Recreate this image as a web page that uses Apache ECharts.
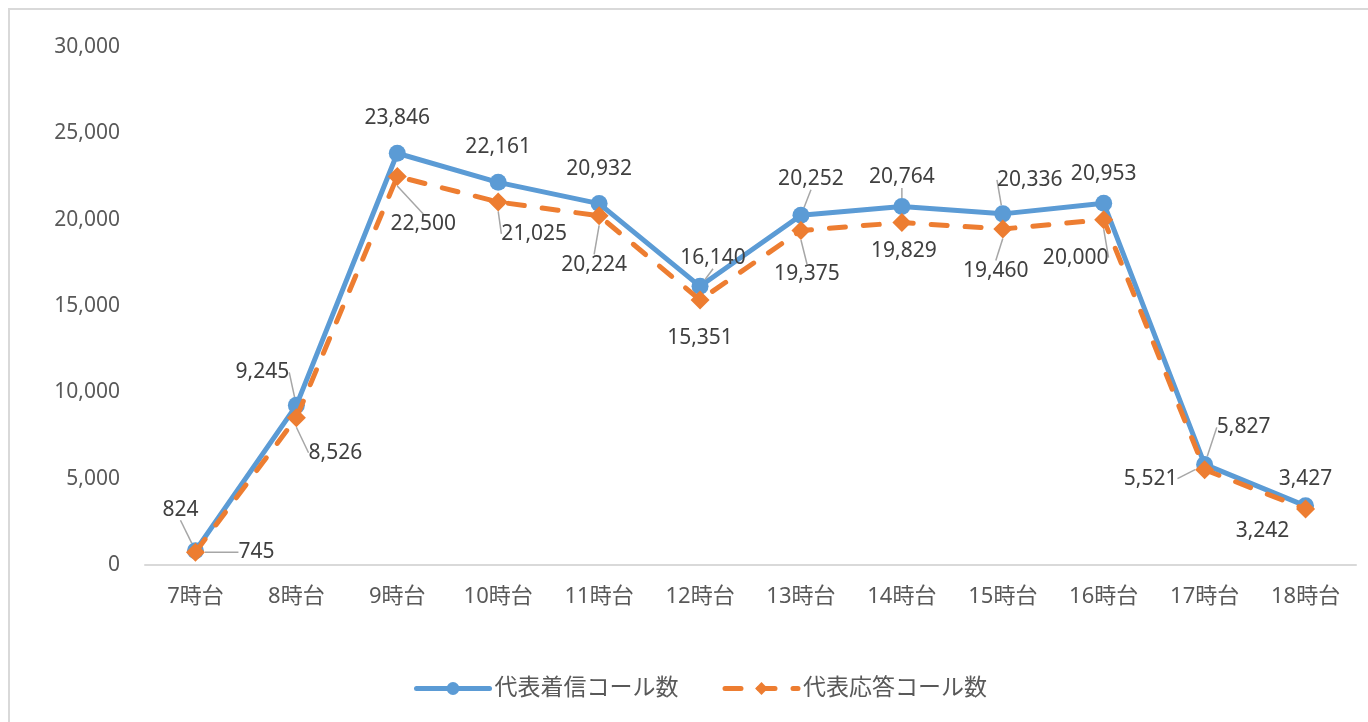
<!DOCTYPE html>
<html>
<head>
<meta charset="utf-8">
<script src="https://cdn.jsdelivr.net/npm/echarts@6/dist/echarts.min.js"></script>
<style>
  html, body { margin: 0; padding: 0; background: #fff; }
  #chart { width: 1368px; height: 722px; }
</style>
</head>
<body>
<div id="chart"></div>
<script>
// Hourly call volumes
const hours = ['7時台', '8時台', '9時台', '10時台', '11時台', '12時台', '13時台', '14時台', '15時台', '16時台', '17時台', '18時台'];
const incomingCalls = [824, 9245, 23846, 22161, 20932, 16140, 20252, 20764, 20336, 20953, 5827, 3427];
const answeredCalls = [745, 8526, 22500, 21025, 20224, 15351, 19375, 19829, 19460, 20000, 5521, 3242];
const seriesNames = ['代表着信コール数', '代表応答コール数'];
const yTicks = { min: 0, max: 30000, step: 5000 };

// Label placement relative to each marker centre (px), and whether a leader line is drawn
const incomingLabelOffsets = [[-15, -41], [-34, -33], [0, -35], [0, -35], [0, -35], [13, -28], [10, -36], [0, -29], [27, -34], [0, -29], [39, -37], [0, -27]];
const incomingLeaders = [true, true, false, false, false, true, true, true, true, false, true, false];
const answeredLabelOffsets = [[61, 0], [39, 35], [26, 48], [36, 32], [-5, 49], [0, 38], [6, 44], [2, 28], [-7, 42], [-28, 38], [-54, 9], [-43, 22]];
const answeredLeaders = [true, true, true, true, true, false, true, false, true, true, true, false];

const FONT = "'Noto Sans', 'Noto Sans CJK JP', sans-serif";
const fmt = v => Number(v).toLocaleString('en-US');

function buildData(values, leaders) {
  return values.map((v, i) => ({ value: v, labelLine: { show: leaders[i] } }));
}

function layoutFor(offsets) {
  return function (params) {
    const r = params.rect;
    const o = offsets[params.dataIndex];
    return {
      x: r.x + r.width / 2 + o[0],
      y: r.y + r.height / 2 + o[1],
      align: 'center',
      verticalAlign: 'middle'
    };
  };
}

const labelStyle = {
  show: true,
  position: 'inside',
  color: '#404040',
  fontFamily: FONT,
  fontSize: 21,
  formatter: p => fmt(p.value)
};
const leaderStyle = { lineStyle: { color: '#A6A6A6', width: 1.5 } };

const chart = echarts.init(document.getElementById('chart'), null, { renderer: 'canvas' });
chart.setOption({
  animation: false,
  backgroundColor: '#fff',
  graphic: [{
    type: 'rect',
    shape: { x: 9, y: 9, width: 1400, height: 800 },
    style: { fill: 'none', stroke: '#D9D9D9', lineWidth: 2 },
    silent: true,
    z: -10
  }],
  grid: { left: 145, right: 12, top: 47, bottom: 157, containLabel: false },
  legend: {
    top: 677,
    left: 414,
    padding: 0,
    itemWidth: 73,
    itemHeight: 16,
    itemGap: 44,
    itemTextGap: 6,
    lineStyle: { width: 5 },
    textStyle: { fontFamily: FONT, fontSize: 23, color: '#595959' },
    data: seriesNames
  },
  xAxis: {
    type: 'category',
    data: hours,
    boundaryGap: true,
    axisLine: { lineStyle: { color: '#D9D9D9', width: 2 } },
    axisTick: { show: false },
    axisLabel: { margin: 21, fontFamily: FONT, fontSize: 22, color: '#595959' }
  },
  yAxis: {
    type: 'value',
    min: yTicks.min,
    max: yTicks.max,
    interval: yTicks.step,
    axisLine: { show: false },
    axisTick: { show: false },
    splitLine: { show: false },
    axisLabel: { margin: 25, fontFamily: FONT, fontSize: 21, color: '#595959', formatter: fmt }
  },
  series: [
    {
      name: seriesNames[0],
      type: 'line',
      data: buildData(incomingCalls, incomingLeaders),
      symbol: 'circle',
      symbolSize: 17,
      itemStyle: { color: '#5B9BD5' },
      lineStyle: { color: '#5B9BD5', width: 5, cap: 'round', join: 'round' },
      label: labelStyle,
      labelLine: leaderStyle,
      labelLayout: layoutFor(incomingLabelOffsets),
      z: 2
    },
    {
      name: seriesNames[1],
      type: 'line',
      data: buildData(answeredCalls, answeredLeaders),
      symbol: 'diamond',
      symbolSize: 19,
      itemStyle: { color: '#ED7D31' },
      lineStyle: { color: '#ED7D31', width: 5, type: [16, 18], cap: 'round', join: 'round' },
      label: labelStyle,
      labelLine: leaderStyle,
      labelLayout: layoutFor(answeredLabelOffsets),
      z: 3
    }
  ]
});
</script>
</body>
</html>
